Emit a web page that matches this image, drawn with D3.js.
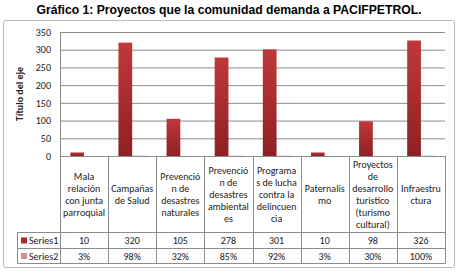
<!DOCTYPE html>
<html><head><meta charset="utf-8">
<script src="https://cdn.jsdelivr.net/npm/d3@7"></script>
<style>body{margin:0;background:#fff;}svg{display:block;}</style>
</head><body>
<script>
const title = "Gráfico 1: Proyectos que la comunidad demanda a PACIFPETROL.";
const categories = [
  ["Mala","relación","con junta","parroquial"],
  ["Campañas","de Salud"],
  ["Prevenció","n de","desastres","naturales"],
  ["Prevenció","n de","desastres","ambiental","es"],
  ["Programa","s de lucha","contra la","delincuen","cia"],
  ["Paternalis","mo"],
  ["Proyectos","de","desarrollo","turistico","(turismo","cultural)"],
  ["Infraestru","ctura"]
];
const seriesNames = ["Series1","Series2"];
const series1 = [10, 320, 105, 278, 301, 10, 98, 326];
const series2 = [0.03, 0.98, 0.32, 0.85, 0.92, 0.03, 0.30, 1.00];
const series2Labels = ["3%","98%","32%","85%","92%","3%","30%","100%"];
const yTicks = [0,50,100,150,200,250,300,350];
const yTitle = "Título del eje";

(function(){
const W=457,H=274;
const svg=d3.select("body").append("svg").attr("width",W).attr("height",H);
const font="Carlito, Calibri, 'Liberation Sans Narrow', 'Liberation Sans', Arial, sans-serif";
const fs=10;
svg.append("rect").attr("x",3.5).attr("y",20.5).attr("width",451).attr("height",247)
  .attr("fill","#fff").attr("stroke","#bcbcbc").attr("rx",2);
svg.append("text").attr("x",229).attr("y",14).attr("text-anchor","middle")
  .attr("font-family","'Liberation Sans', Arial, sans-serif").attr("font-weight","bold")
  .attr("font-size",12.2).attr("fill","#000").text(title);

const pL=60,pR=445,pT=32,pB=156;
const x=d3.scaleBand().domain(d3.range(categories.length)).range([pL,pR]).paddingInner(0).paddingOuter(0);
const y=d3.scaleLinear().domain([0,350]).range([pB,pT]);
const defs=svg.append("defs");
const g1=defs.append("linearGradient").attr("id","g1").attr("x1",0).attr("x2",0).attr("y1",0).attr("y2",1);
g1.append("stop").attr("offset","0%").attr("stop-color","#c0383a");
g1.append("stop").attr("offset","100%").attr("stop-color","#8e2023");
const g2=defs.append("linearGradient").attr("id","g2").attr("x1",0).attr("x2",0).attr("y1",0).attr("y2",1);
g2.append("stop").attr("offset","0%").attr("stop-color","#e39aa6");
g2.append("stop").attr("offset","100%").attr("stop-color","#c87683");

const yAxis=d3.axisLeft(y).tickValues(yTicks).tickSize(-(pR-pL)).tickPadding(9);
const ga=svg.append("g").attr("transform",`translate(${pL},0)`).call(yAxis);
ga.select(".domain").remove();
ga.selectAll(".tick line").attr("stroke","#8c8c8c").attr("stroke-width",1);
ga.selectAll(".tick text").attr("font-family",font).attr("font-size",fs).attr("fill","#222");
svg.append("line").attr("x1",pL+0.5).attr("x2",pL+0.5).attr("y1",pT).attr("y2",pB).attr("stroke","#8c8c8c");

svg.append("text").attr("transform",`translate(23,${(pT+pB)/2}) rotate(-90)`)
  .attr("text-anchor","middle").attr("font-family",font).attr("font-weight","bold")
  .attr("font-size",fs).attr("fill","#222").text(yTitle);

const bw=x.bandwidth()/3.5;
const sub=d3.scaleBand().domain([0,1]).range([0,2*bw]);
svg.append("g").selectAll("rect").data(series1).join("rect")
  .attr("x",(d,i)=>x(i)+0.75*bw+sub(0)).attr("width",bw)
  .attr("y",d=>y(d)).attr("height",d=>y(0)-y(d)).attr("fill","url(#g1)");
svg.append("g").selectAll("rect").data(series2).join("rect")
  .attr("x",(d,i)=>x(i)+0.75*bw+sub(1)).attr("width",bw)
  .attr("y",d=>y(d)).attr("height",d=>y(0)-y(d)).attr("fill","url(#g2)");

const r1=232.5,r2=248.5,r3=263.5,tl=17.5;
const tg=svg.append("g").attr("stroke","#8c8c8c").attr("stroke-width",1);
d3.range(categories.length+1).forEach(i=>{
  const xx=Math.round(i<categories.length?x(i):pR)+0.5;
  tg.append("line").attr("x1",xx).attr("x2",xx).attr("y1",pB).attr("y2",r3);
});
tg.append("line").attr("x1",pL).attr("x2",pR+0.5).attr("y1",pB+0.5).attr("y2",pB+0.5);
[r1,r2,r3].forEach(yy=>tg.append("line").attr("x1",tl).attr("x2",pR+0.5).attr("y1",yy).attr("y2",yy));
tg.append("line").attr("x1",tl).attr("x2",tl).attr("y1",r1).attr("y2",r3);

const lh=12.1;
categories.forEach((lines,i)=>{
  const cx=x(i)+x.bandwidth()/2;
  const cy=(pB+r1)/2;
  const t=svg.append("text").attr("text-anchor","middle").attr("font-family",font)
    .attr("font-size",fs).attr("fill","#222");
  lines.forEach((ln,k)=>{
    t.append("tspan").attr("x",cx).attr("y",cy+(k-(lines.length-1)/2)*lh+3.5).text(ln);
  });
  svg.append("text").attr("x",cx).attr("y",(r1+r2)/2+3.5).attr("text-anchor","middle")
    .attr("font-family",font).attr("font-size",fs).attr("fill","#222").text(series1[i]);
  svg.append("text").attr("x",cx).attr("y",(r2+r3)/2+3.5).attr("text-anchor","middle")
    .attr("font-family",font).attr("font-size",fs).attr("fill","#222").text(series2Labels[i]);
});
const colors=["#a72b2e","#d98c98"];
seriesNames.forEach((s,k)=>{
  const cy=k===0?(r1+r2)/2:(r2+r3)/2;
  svg.append("rect").attr("x",21).attr("y",cy-3).attr("width",6).attr("height",6).attr("fill",colors[k]);
  svg.append("text").attr("x",29).attr("y",cy+3.5).attr("font-family",font).attr("font-size",fs)
    .attr("fill","#222").text(s);
});
})();
</script>
</body></html>
